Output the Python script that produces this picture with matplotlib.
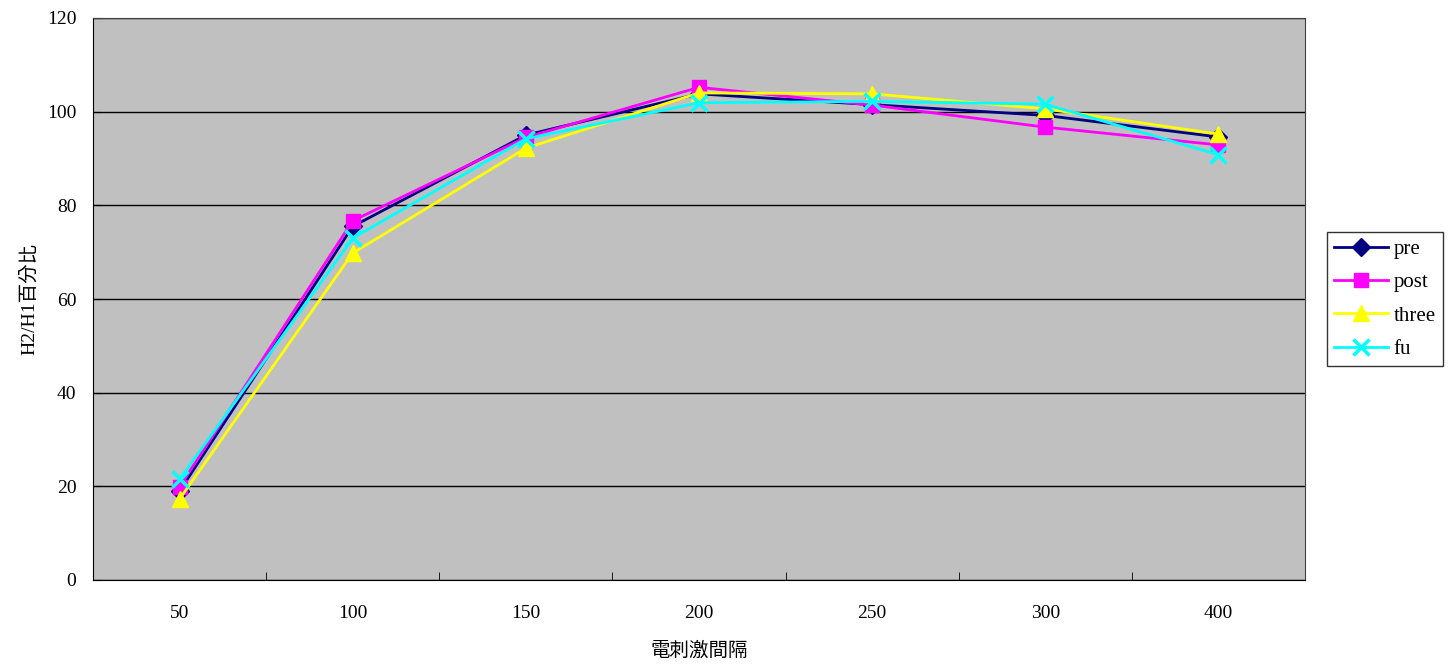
import matplotlib
matplotlib.use("Agg")
import matplotlib.pyplot as plt
import numpy as np

# data
categories = ["50", "100", "150", "200", "250", "300", "400"]
pre = [19.0, 75.5, 95.0, 103.8, 101.5, 99.2, 94.6]
post = [19.9, 76.7, 94.5, 105.2, 101.4, 96.7, 92.9]
three = [17.3, 69.8, 92.2, 104.0, 103.8, 100.6, 95.2]
fu = [21.5, 73.0, 94.2, 101.9, 102.2, 101.6, 90.8]

plt.rcParams['font.family'] = ['Liberation Serif', 'Noto Sans CJK TC']

fig = plt.figure(figsize=(14.52, 6.69), dpi=100)
ax = fig.add_axes([93 / 1452, 1 - 580 / 669, (1305 - 93) / 1452, (580 - 18) / 669])
ax.set_facecolor('#C0C0C0')

x = np.arange(len(categories))
ax.plot(x, pre, color='#000080', lw=2, marker='D', ms=9, label='pre', zorder=3)
ax.plot(x, post, color='#FF00FF', lw=2, marker='s', ms=10, label='post', zorder=3)
ax.plot(x, three, color='#FFFF00', lw=2, marker='^', ms=11, label='three', zorder=3)
ax.plot(x, fu, color='#00FFFF', lw=2, marker='x', ms=11, mew=2.5, label='fu', zorder=3)

ax.set_xlim(-0.5, len(categories) - 0.5)
ax.set_ylim(0, 120)
ax.set_yticks(range(0, 121, 20))
ax.set_xticks(x)
ax.set_xticklabels(categories)
ax.set_xticks(np.arange(-0.5, len(categories), 1), minor=True)
ax.tick_params(axis='x', which='major', length=0, pad=18, labelsize=14)
ax.tick_params(axis='x', which='minor', length=6, direction='in', color='black')
ax.tick_params(axis='y', length=6, direction='in', labelsize=14, pad=12)
ax.yaxis.grid(True, color='black', lw=1)
ax.set_axisbelow(True)
for s in ax.spines.values():
    s.set_color('#404040')
ax.spines['left'].set_color('black')
ax.spines['bottom'].set_color('black')

ax.set_xlabel('電刺激間隔', fontsize=14, labelpad=14)
ax.set_ylabel('H2/H1百分比', fontsize=14, labelpad=6)

leg = ax.legend(loc='upper left', bbox_to_anchor=(1327 / 1452, 1 - 232 / 669),
                bbox_transform=fig.transFigure, borderaxespad=0, frameon=True,
                fancybox=False, edgecolor='black', fontsize=15, handlelength=2.6,
                borderpad=0.35, labelspacing=0.66, handletextpad=0.25)
leg.get_frame().set_linewidth(1)

fig.savefig('out.png', dpi=100)
